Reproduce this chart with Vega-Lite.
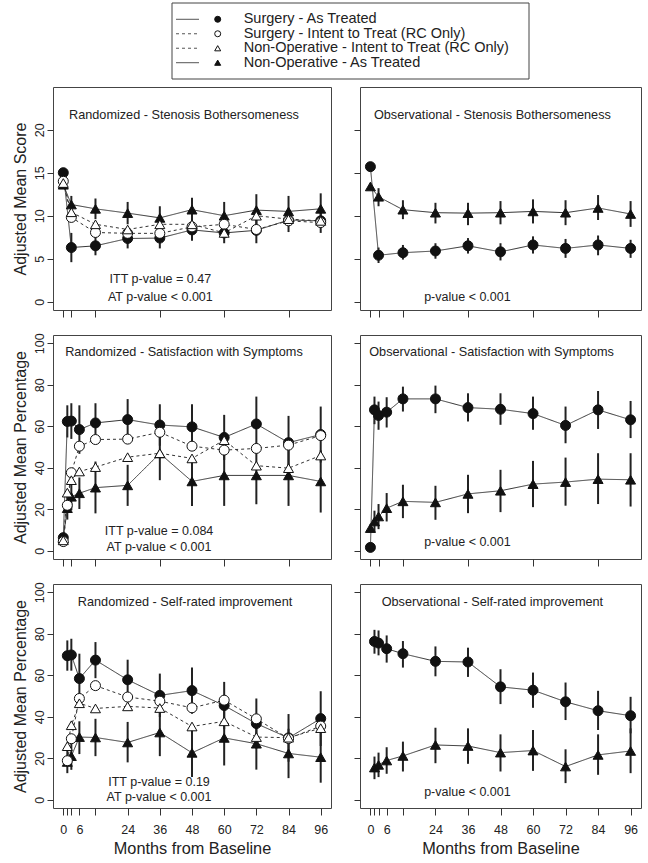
{
"$schema": "https://vega.github.io/schema/vega-lite/v6.json",
"padding": {"left": 11, "top": 2, "right": 4, "bottom": 4},
"config": {
  "font": "Liberation Sans",
  "view": {"stroke": "#444", "strokeWidth": 1},
  "axis": {"grid": false, "domain": false, "tickColor": "#333", "tickWidth": 1, "labelFont": "Liberation Sans", "titleFont": "Liberation Sans", "labelColor": "#222", "titleColor": "#222", "titleFontWeight": "normal", "labelFontSize": 12.5, "titleFontSize": 16, "labelOverlap": false, "labelFlush": false},
  "text": {"font": "Liberation Sans", "color": "#222"}
},
"datasets": {
"leg": [
 {"s": "SAT", "i": 1, "label": "Surgery - As Treated"},
 {"s": "SITT", "i": 2, "label": "Surgery - Intent to Treat (RC Only)"},
 {"s": "NITT", "i": 3, "label": "Non-Operative - Intent to Treat (RC Only)"},
 {"s": "NAT", "i": 4, "label": "Non-Operative - As Treated"}
],
"d": [
 {"o":"SB","c":"R","s":"SAT","m":0,"v":15.0},
 {"o":"SB","c":"R","s":"SAT","m":3,"v":6.3,"lo":4.6,"hi":8.0},
 {"o":"SB","c":"R","s":"SAT","m":12,"v":6.5,"lo":5.4,"hi":7.7},
 {"o":"SB","c":"R","s":"SAT","m":24,"v":7.35,"lo":6.2,"hi":8.4},
 {"o":"SB","c":"R","s":"SAT","m":36,"v":7.4,"lo":6.2,"hi":8.5},
 {"o":"SB","c":"R","s":"SAT","m":48,"v":8.35,"lo":7.1,"hi":9.4},
 {"o":"SB","c":"R","s":"SAT","m":60,"v":8.0,"lo":6.8,"hi":9.2},
 {"o":"SB","c":"R","s":"SAT","m":72,"v":8.3,"lo":6.8,"hi":9.7},
 {"o":"SB","c":"R","s":"SAT","m":84,"v":9.5,"lo":8.1,"hi":10.8},
 {"o":"SB","c":"R","s":"SAT","m":96,"v":9.4,"lo":8.0,"hi":10.7},
 {"o":"SB","c":"R","s":"NAT","m":0,"v":13.6},
 {"o":"SB","c":"R","s":"NAT","m":3,"v":11.3,"lo":10.3,"hi":12.3},
 {"o":"SB","c":"R","s":"NAT","m":12,"v":10.8,"lo":9.6,"hi":12.0},
 {"o":"SB","c":"R","s":"NAT","m":24,"v":10.3,"lo":9.0,"hi":11.6},
 {"o":"SB","c":"R","s":"NAT","m":36,"v":9.75,"lo":8.4,"hi":11.1},
 {"o":"SB","c":"R","s":"NAT","m":48,"v":10.7,"lo":9.3,"hi":12.1},
 {"o":"SB","c":"R","s":"NAT","m":60,"v":10.0,"lo":8.4,"hi":11.6},
 {"o":"SB","c":"R","s":"NAT","m":72,"v":10.65,"lo":8.8,"hi":12.5},
 {"o":"SB","c":"R","s":"NAT","m":84,"v":10.5,"lo":8.8,"hi":12.3},
 {"o":"SB","c":"R","s":"NAT","m":96,"v":10.8,"lo":9.0,"hi":12.6},
 {"o":"SB","c":"R","s":"SITT","m":0,"v":14.0},
 {"o":"SB","c":"R","s":"SITT","m":3,"v":9.8},
 {"o":"SB","c":"R","s":"SITT","m":12,"v":8.05},
 {"o":"SB","c":"R","s":"SITT","m":24,"v":7.95},
 {"o":"SB","c":"R","s":"SITT","m":36,"v":7.95},
 {"o":"SB","c":"R","s":"SITT","m":48,"v":8.7},
 {"o":"SB","c":"R","s":"SITT","m":60,"v":9.0},
 {"o":"SB","c":"R","s":"SITT","m":72,"v":8.4},
 {"o":"SB","c":"R","s":"SITT","m":84,"v":9.4},
 {"o":"SB","c":"R","s":"SITT","m":96,"v":9.2},
 {"o":"SB","c":"R","s":"NITT","m":0,"v":13.8},
 {"o":"SB","c":"R","s":"NITT","m":3,"v":10.4},
 {"o":"SB","c":"R","s":"NITT","m":12,"v":9.0},
 {"o":"SB","c":"R","s":"NITT","m":24,"v":8.4},
 {"o":"SB","c":"R","s":"NITT","m":36,"v":9.0},
 {"o":"SB","c":"R","s":"NITT","m":48,"v":9.0},
 {"o":"SB","c":"R","s":"NITT","m":60,"v":8.0},
 {"o":"SB","c":"R","s":"NITT","m":72,"v":10.0},
 {"o":"SB","c":"R","s":"NITT","m":84,"v":9.6},
 {"o":"SB","c":"R","s":"NITT","m":96,"v":9.4},
 {"o":"SB","c":"O","s":"SAT","m":0,"v":15.7},
 {"o":"SB","c":"O","s":"SAT","m":3,"v":5.4,"lo":4.5,"hi":6.3},
 {"o":"SB","c":"O","s":"SAT","m":12,"v":5.7,"lo":4.9,"hi":6.6},
 {"o":"SB","c":"O","s":"SAT","m":24,"v":5.9,"lo":5.0,"hi":6.8},
 {"o":"SB","c":"O","s":"SAT","m":36,"v":6.5,"lo":5.6,"hi":7.4},
 {"o":"SB","c":"O","s":"SAT","m":48,"v":5.8,"lo":4.8,"hi":6.8},
 {"o":"SB","c":"O","s":"SAT","m":60,"v":6.6,"lo":5.6,"hi":7.6},
 {"o":"SB","c":"O","s":"SAT","m":72,"v":6.2,"lo":5.1,"hi":7.3},
 {"o":"SB","c":"O","s":"SAT","m":84,"v":6.6,"lo":5.4,"hi":7.7},
 {"o":"SB","c":"O","s":"SAT","m":96,"v":6.2,"lo":5.1,"hi":7.2},
 {"o":"SB","c":"O","s":"NAT","m":0,"v":13.4},
 {"o":"SB","c":"O","s":"NAT","m":3,"v":12.2,"lo":11.1,"hi":13.2},
 {"o":"SB","c":"O","s":"NAT","m":12,"v":10.7,"lo":9.6,"hi":11.8},
 {"o":"SB","c":"O","s":"NAT","m":24,"v":10.35,"lo":9.1,"hi":11.5},
 {"o":"SB","c":"O","s":"NAT","m":36,"v":10.3,"lo":8.9,"hi":11.5},
 {"o":"SB","c":"O","s":"NAT","m":48,"v":10.35,"lo":9.0,"hi":11.7},
 {"o":"SB","c":"O","s":"NAT","m":60,"v":10.5,"lo":9.1,"hi":11.9},
 {"o":"SB","c":"O","s":"NAT","m":72,"v":10.35,"lo":8.9,"hi":11.8},
 {"o":"SB","c":"O","s":"NAT","m":84,"v":10.9,"lo":9.5,"hi":12.4},
 {"o":"SB","c":"O","s":"NAT","m":96,"v":10.2,"lo":8.7,"hi":11.7},
 {"o":"SS","c":"R","s":"SAT","m":0,"v":6.3},
 {"o":"SS","c":"R","s":"SAT","m":1.5,"v":62.3,"lo":54.6,"hi":70.1},
 {"o":"SS","c":"R","s":"SAT","m":3,"v":62.5,"lo":53.9,"hi":71.1},
 {"o":"SS","c":"R","s":"SAT","m":6,"v":58.4,"lo":46.7,"hi":70.1},
 {"o":"SS","c":"R","s":"SAT","m":12,"v":61.6,"lo":52.1,"hi":71.1},
 {"o":"SS","c":"R","s":"SAT","m":24,"v":63.2,"lo":53.3,"hi":73.1},
 {"o":"SS","c":"R","s":"SAT","m":36,"v":60.6,"lo":50.6,"hi":70.6},
 {"o":"SS","c":"R","s":"SAT","m":48,"v":59.7,"lo":48.8,"hi":70.6},
 {"o":"SS","c":"R","s":"SAT","m":60,"v":54.6,"lo":43.7,"hi":65.5},
 {"o":"SS","c":"R","s":"SAT","m":72,"v":61.1,"lo":47.9,"hi":74.3},
 {"o":"SS","c":"R","s":"SAT","m":84,"v":52.1,"lo":39.2,"hi":65.0},
 {"o":"SS","c":"R","s":"SAT","m":96,"v":56.0,"lo":42.5,"hi":69.5},
 {"o":"SS","c":"R","s":"NAT","m":0,"v":6.0},
 {"o":"SS","c":"R","s":"NAT","m":1.5,"v":20.5,"lo":15.0,"hi":26.0},
 {"o":"SS","c":"R","s":"NAT","m":3,"v":26.0,"lo":19.5,"hi":32.5},
 {"o":"SS","c":"R","s":"NAT","m":6,"v":27.7,"lo":20.1,"hi":35.3},
 {"o":"SS","c":"R","s":"NAT","m":12,"v":30.4,"lo":18.0,"hi":43.0},
 {"o":"SS","c":"R","s":"NAT","m":24,"v":31.5,"lo":21.6,"hi":41.4},
 {"o":"SS","c":"R","s":"NAT","m":36,"v":46.9,"lo":34.0,"hi":60.0},
 {"o":"SS","c":"R","s":"NAT","m":48,"v":33.4,"lo":21.6,"hi":45.2},
 {"o":"SS","c":"R","s":"NAT","m":60,"v":36.3,"lo":21.6,"hi":51.0},
 {"o":"SS","c":"R","s":"NAT","m":72,"v":36.3,"lo":22.4,"hi":50.2},
 {"o":"SS","c":"R","s":"NAT","m":84,"v":36.3,"lo":21.6,"hi":51.0},
 {"o":"SS","c":"R","s":"NAT","m":96,"v":33.4,"lo":18.4,"hi":48.4},
 {"o":"SS","c":"R","s":"SITT","m":0,"v":4.4},
 {"o":"SS","c":"R","s":"SITT","m":1.5,"v":21.9},
 {"o":"SS","c":"R","s":"SITT","m":3,"v":37.6},
 {"o":"SS","c":"R","s":"SITT","m":6,"v":50.4},
 {"o":"SS","c":"R","s":"SITT","m":12,"v":53.6},
 {"o":"SS","c":"R","s":"SITT","m":24,"v":53.8},
 {"o":"SS","c":"R","s":"SITT","m":36,"v":57.1},
 {"o":"SS","c":"R","s":"SITT","m":48,"v":50.4},
 {"o":"SS","c":"R","s":"SITT","m":60,"v":48.5},
 {"o":"SS","c":"R","s":"SITT","m":72,"v":49.3},
 {"o":"SS","c":"R","s":"SITT","m":84,"v":50.9},
 {"o":"SS","c":"R","s":"SITT","m":96,"v":55.5},
 {"o":"SS","c":"R","s":"NITT","m":0,"v":5.0},
 {"o":"SS","c":"R","s":"NITT","m":1.5,"v":28.0},
 {"o":"SS","c":"R","s":"NITT","m":3,"v":34.0},
 {"o":"SS","c":"R","s":"NITT","m":6,"v":38.2},
 {"o":"SS","c":"R","s":"NITT","m":12,"v":40.3},
 {"o":"SS","c":"R","s":"NITT","m":24,"v":45.1},
 {"o":"SS","c":"R","s":"NITT","m":36,"v":47.0},
 {"o":"SS","c":"R","s":"NITT","m":48,"v":44.5},
 {"o":"SS","c":"R","s":"NITT","m":60,"v":53.3},
 {"o":"SS","c":"R","s":"NITT","m":72,"v":41.0},
 {"o":"SS","c":"R","s":"NITT","m":84,"v":39.8},
 {"o":"SS","c":"R","s":"NITT","m":96,"v":45.9},
 {"o":"SS","c":"O","s":"SAT","m":0,"v":1.6},
 {"o":"SS","c":"O","s":"SAT","m":1.5,"v":67.9,"lo":61.0,"hi":74.3},
 {"o":"SS","c":"O","s":"SAT","m":3,"v":65.2,"lo":58.3,"hi":71.9},
 {"o":"SS","c":"O","s":"SAT","m":6,"v":66.8,"lo":59.4,"hi":74.0},
 {"o":"SS","c":"O","s":"SAT","m":12,"v":73.2,"lo":67.1,"hi":79.1},
 {"o":"SS","c":"O","s":"SAT","m":24,"v":73.2,"lo":66.3,"hi":79.6},
 {"o":"SS","c":"O","s":"SAT","m":36,"v":69.0,"lo":62.3,"hi":75.9},
 {"o":"SS","c":"O","s":"SAT","m":48,"v":68.2,"lo":60.7,"hi":75.9},
 {"o":"SS","c":"O","s":"SAT","m":60,"v":66.1,"lo":58.3,"hi":74.3},
 {"o":"SS","c":"O","s":"SAT","m":72,"v":60.4,"lo":51.8,"hi":69.5},
 {"o":"SS","c":"O","s":"SAT","m":84,"v":67.9,"lo":58.7,"hi":77.0},
 {"o":"SS","c":"O","s":"SAT","m":96,"v":63.1,"lo":54.3,"hi":72.2},
 {"o":"SS","c":"O","s":"NAT","m":0,"v":10.9},
 {"o":"SS","c":"O","s":"NAT","m":1.5,"v":14.1,"lo":8.8,"hi":19.3},
 {"o":"SS","c":"O","s":"NAT","m":3,"v":16.5,"lo":10.4,"hi":22.5},
 {"o":"SS","c":"O","s":"NAT","m":6,"v":20.5,"lo":14.1,"hi":27.8},
 {"o":"SS","c":"O","s":"NAT","m":12,"v":23.8,"lo":15.7,"hi":31.8},
 {"o":"SS","c":"O","s":"NAT","m":24,"v":23.3,"lo":14.9,"hi":31.3},
 {"o":"SS","c":"O","s":"NAT","m":36,"v":27.4,"lo":18.1,"hi":36.6},
 {"o":"SS","c":"O","s":"NAT","m":48,"v":28.9,"lo":18.6,"hi":39.0},
 {"o":"SS","c":"O","s":"NAT","m":60,"v":32.1,"lo":21.0,"hi":43.3},
 {"o":"SS","c":"O","s":"NAT","m":72,"v":33.1,"lo":21.7,"hi":44.9},
 {"o":"SS","c":"O","s":"NAT","m":84,"v":34.5,"lo":22.5,"hi":47.0},
 {"o":"SS","c":"O","s":"NAT","m":96,"v":34.2,"lo":21.3,"hi":47.0},
 {"o":"SR","c":"R","s":"SAT","m":1.5,"v":69.4,"lo":62.2,"hi":76.8},
 {"o":"SR","c":"R","s":"SAT","m":3,"v":69.8,"lo":62.2,"hi":77.6},
 {"o":"SR","c":"R","s":"SAT","m":6,"v":58.4,"lo":46.4,"hi":70.4},
 {"o":"SR","c":"R","s":"SAT","m":12,"v":67.3,"lo":58.6,"hi":76.0},
 {"o":"SR","c":"R","s":"SAT","m":24,"v":57.8,"lo":48.1,"hi":67.5},
 {"o":"SR","c":"R","s":"SAT","m":36,"v":50.3,"lo":39.8,"hi":60.8},
 {"o":"SR","c":"R","s":"SAT","m":48,"v":52.6,"lo":41.5,"hi":63.7},
 {"o":"SR","c":"R","s":"SAT","m":60,"v":45.4,"lo":34.0,"hi":56.8},
 {"o":"SR","c":"R","s":"SAT","m":72,"v":36.7,"lo":24.6,"hi":48.8},
 {"o":"SR","c":"R","s":"SAT","m":84,"v":29.8,"lo":18.3,"hi":41.3},
 {"o":"SR","c":"R","s":"SAT","m":96,"v":39.1,"lo":25.9,"hi":52.3},
 {"o":"SR","c":"R","s":"NAT","m":1.5,"v":18.2,"lo":12.8,"hi":23.6},
 {"o":"SR","c":"R","s":"NAT","m":3,"v":21.0,"lo":14.4,"hi":27.6},
 {"o":"SR","c":"R","s":"NAT","m":6,"v":30.2,"lo":22.0,"hi":37.8},
 {"o":"SR","c":"R","s":"NAT","m":12,"v":30.0,"lo":21.0,"hi":39.0},
 {"o":"SR","c":"R","s":"NAT","m":24,"v":27.6,"lo":18.0,"hi":37.5},
 {"o":"SR","c":"R","s":"NAT","m":36,"v":32.4,"lo":21.0,"hi":44.0},
 {"o":"SR","c":"R","s":"NAT","m":48,"v":22.6,"lo":11.0,"hi":34.0},
 {"o":"SR","c":"R","s":"NAT","m":60,"v":29.8,"lo":16.5,"hi":43.0},
 {"o":"SR","c":"R","s":"NAT","m":72,"v":27.0,"lo":14.5,"hi":39.5},
 {"o":"SR","c":"R","s":"NAT","m":84,"v":22.3,"lo":10.4,"hi":34.2},
 {"o":"SR","c":"R","s":"NAT","m":96,"v":20.5,"lo":8.2,"hi":32.8},
 {"o":"SR","c":"R","s":"SITT","m":1.5,"v":18.8},
 {"o":"SR","c":"R","s":"SITT","m":3,"v":29.4},
 {"o":"SR","c":"R","s":"SITT","m":6,"v":48.8},
 {"o":"SR","c":"R","s":"SITT","m":12,"v":55.0},
 {"o":"SR","c":"R","s":"SITT","m":24,"v":49.5},
 {"o":"SR","c":"R","s":"SITT","m":36,"v":47.5},
 {"o":"SR","c":"R","s":"SITT","m":48,"v":44.3},
 {"o":"SR","c":"R","s":"SITT","m":60,"v":48.0},
 {"o":"SR","c":"R","s":"SITT","m":72,"v":39.0},
 {"o":"SR","c":"R","s":"SITT","m":84,"v":29.5},
 {"o":"SR","c":"R","s":"SITT","m":96,"v":35.5},
 {"o":"SR","c":"R","s":"NITT","m":1.5,"v":25.8},
 {"o":"SR","c":"R","s":"NITT","m":3,"v":35.9},
 {"o":"SR","c":"R","s":"NITT","m":6,"v":46.5},
 {"o":"SR","c":"R","s":"NITT","m":12,"v":44.0},
 {"o":"SR","c":"R","s":"NITT","m":24,"v":45.0},
 {"o":"SR","c":"R","s":"NITT","m":36,"v":44.2},
 {"o":"SR","c":"R","s":"NITT","m":48,"v":35.3},
 {"o":"SR","c":"R","s":"NITT","m":60,"v":37.8},
 {"o":"SR","c":"R","s":"NITT","m":72,"v":30.2},
 {"o":"SR","c":"R","s":"NITT","m":84,"v":29.9},
 {"o":"SR","c":"R","s":"NITT","m":96,"v":34.5},
 {"o":"SR","c":"O","s":"SAT","m":1.5,"v":76.3,"lo":70.4,"hi":81.9},
 {"o":"SR","c":"O","s":"SAT","m":3,"v":75.5,"lo":69.6,"hi":81.6},
 {"o":"SR","c":"O","s":"SAT","m":6,"v":72.8,"lo":66.1,"hi":79.2},
 {"o":"SR","c":"O","s":"SAT","m":12,"v":70.4,"lo":63.7,"hi":76.5},
 {"o":"SR","c":"O","s":"SAT","m":24,"v":66.7,"lo":59.5,"hi":73.9},
 {"o":"SR","c":"O","s":"SAT","m":36,"v":66.4,"lo":59.2,"hi":73.3},
 {"o":"SR","c":"O","s":"SAT","m":48,"v":54.4,"lo":46.1,"hi":62.9},
 {"o":"SR","c":"O","s":"SAT","m":60,"v":52.8,"lo":44.3,"hi":61.3},
 {"o":"SR","c":"O","s":"SAT","m":72,"v":47.2,"lo":38.4,"hi":56.5},
 {"o":"SR","c":"O","s":"SAT","m":84,"v":42.9,"lo":33.6,"hi":52.5},
 {"o":"SR","c":"O","s":"SAT","m":96,"v":40.5,"lo":32.0,"hi":49.6},
 {"o":"SR","c":"O","s":"NAT","m":1.5,"v":15.5,"lo":9.9,"hi":20.8},
 {"o":"SR","c":"O","s":"NAT","m":3,"v":16.8,"lo":10.9,"hi":22.7},
 {"o":"SR","c":"O","s":"NAT","m":6,"v":18.9,"lo":12.5,"hi":25.3},
 {"o":"SR","c":"O","s":"NAT","m":12,"v":21.1,"lo":13.6,"hi":28.0},
 {"o":"SR","c":"O","s":"NAT","m":24,"v":26.4,"lo":17.6,"hi":34.7},
 {"o":"SR","c":"O","s":"NAT","m":36,"v":25.9,"lo":17.3,"hi":34.4},
 {"o":"SR","c":"O","s":"NAT","m":48,"v":22.7,"lo":13.6,"hi":31.5},
 {"o":"SR","c":"O","s":"NAT","m":60,"v":23.7,"lo":13.9,"hi":33.6},
 {"o":"SR","c":"O","s":"NAT","m":72,"v":16.0,"lo":8.0,"hi":24.3},
 {"o":"SR","c":"O","s":"NAT","m":84,"v":21.6,"lo":12.0,"hi":31.5},
 {"o":"SR","c":"O","s":"NAT","m":96,"v":23.5,"lo":12.8,"hi":34.4}
]
},
"spacing": 6,
"vconcat": [
 {
  "width": 586, "height": 76,
  "view": {"stroke": null},
  "layer": [
   {"data": {"values": [{}]}, "mark": {"type": "rect", "filled": false, "color": "#444", "strokeWidth": 1},
    "encoding": {"x": {"datum": 119, "type": "quantitative", "scale": {"domain": [0, 586], "nice": false, "zero": false}, "axis": null}, "x2": {"datum": 476},
     "y": {"datum": -0.126, "type": "quantitative", "scale": {"domain": [-0.126, 5.126], "reverse": true, "nice": false, "zero": false}, "axis": null}, "y2": {"datum": 5.126}}},
   {"data": {"name": "leg"}, "mark": {"type": "rule", "strokeWidth": 1, "color": "#555"},
    "encoding": {"x": {"datum": 123, "type": "quantitative"}, "x2": {"datum": 146}, "y": {"field": "i", "type": "quantitative"},
     "strokeDash": {"field": "s", "type": "nominal", "scale": {"domain": ["SAT","SITT","NITT","NAT"], "range": [[1,0],[3,3],[3,3],[1,0]]}, "legend": null}}},
   {"data": {"name": "leg"}, "mark": {"type": "point", "filled": true, "stroke": "#111", "strokeWidth": 1, "opacity": 1, "size": 36},
    "encoding": {"x": {"datum": 164.7, "type": "quantitative"}, "y": {"field": "i", "type": "quantitative"},
     "shape": {"field": "s", "type": "nominal", "scale": {"domain": ["SAT","SITT","NITT","NAT"], "range": ["circle","circle","triangle-up","triangle-up"]}, "legend": null},
     "fill": {"field": "s", "type": "nominal", "scale": {"domain": ["SAT","SITT","NITT","NAT"], "range": ["#111111","#ffffff","#ffffff","#111111"]}, "legend": null}}},
   {"data": {"name": "leg"}, "mark": {"type": "text", "align": "left", "baseline": "middle", "fontSize": 14.5, "color": "#222"},
    "encoding": {"x": {"datum": 190.7, "type": "quantitative"}, "y": {"field": "i", "type": "quantitative"}, "text": {"field": "label"}}}
  ]
 },
 {
  "spacing": 14,
  "vconcat": [
   {"spacing": 21, "hconcat": [
    {"width": 278, "height": 223,
     "layer": [
      {"data": {"name": "d"}, "transform": [{"filter": "datum.o=='SB' && datum.c=='R' && isValid(datum.lo)"}],
       "mark": {"type": "rule", "strokeWidth": 2, "color": "#222"},
       "encoding": {"x": {"field": "m", "type": "quantitative", "scale": {"domain": [-3.84, 99.84], "nice": false, "zero": false}, "axis": {"values": [0,1.5,3,6,12,24,36,48,60,72,84,96], "labels": false, "title": null, "tickSize": 7}},
        "y": {"field": "lo", "type": "quantitative", "scale": {"domain": [-0.96, 24.96], "nice": false, "zero": false}, "axis": {"values": [0,5,10,15,20], "title": "Adjusted Mean Score", "labelAngle": -90, "tickSize": 6, "labelPadding": 1, "titlePadding": 5}},
        "y2": {"field": "hi"}}},
      {"data": {"name": "d"}, "transform": [{"filter": "datum.o=='SB' && datum.c=='R'"}],
       "mark": {"type": "line", "strokeWidth": 1, "color": "#333"},
       "encoding": {"x": {"field": "m", "type": "quantitative"}, "y": {"field": "v", "type": "quantitative"},
        "strokeDash": {"field": "s", "type": "nominal", "scale": {"domain": ["SAT","SITT","NITT","NAT"], "range": [[1,0],[4,3],[4,3],[1,0]]}, "legend": null}}},
      {"data": {"name": "d"}, "transform": [{"filter": "datum.o=='SB' && datum.c=='R'"}],
       "mark": {"type": "point", "filled": true, "stroke": "#111", "strokeWidth": 1, "opacity": 1, "size": 100},
       "encoding": {"x": {"field": "m", "type": "quantitative"}, "y": {"field": "v", "type": "quantitative"},
        "shape": {"field": "s", "type": "nominal", "scale": {"domain": ["SAT","SITT","NITT","NAT"], "range": ["circle","circle","triangle-up","triangle-up"]}, "legend": null},
        "fill": {"field": "s", "type": "nominal", "scale": {"domain": ["SAT","SITT","NITT","NAT"], "range": ["#111111","#ffffff","#ffffff","#111111"]}, "legend": null}}},
      {"data": {"values": [{}]}, "mark": {"type": "text", "text": "Randomized - Stenosis Bothersomeness", "fontSize": 12.7, "baseline": "middle"}, "encoding": {"x": {"datum": 45}, "y": {"datum": 21.7}}},
      {"data": {"values": [{}]}, "mark": {"type": "text", "text": "ITT p-value = 0.47", "fontSize": 12.5, "baseline": "middle"}, "encoding": {"x": {"datum": 36.2}, "y": {"datum": 2.7}}},
      {"data": {"values": [{}]}, "mark": {"type": "text", "text": "AT p-value < 0.001", "fontSize": 12.5, "baseline": "middle"}, "encoding": {"x": {"datum": 36.2}, "y": {"datum": 0.6}}}
     ]},
    {"width": 281, "height": 223,
     "layer": [
      {"data": {"name": "d"}, "transform": [{"filter": "datum.o=='SB' && datum.c=='O' && isValid(datum.lo)"}],
       "mark": {"type": "rule", "strokeWidth": 2, "color": "#222"},
       "encoding": {"x": {"field": "m", "type": "quantitative", "scale": {"domain": [-3.84, 99.84], "nice": false, "zero": false}, "axis": {"values": [0,1.5,3,6,12,24,36,48,60,72,84,96], "labels": false, "title": null, "tickSize": 7}},
        "y": {"field": "lo", "type": "quantitative", "scale": {"domain": [-0.96, 24.96], "nice": false, "zero": false}, "axis": {"values": [0,5,10,15,20], "title": null, "labels": false, "tickSize": 6}},
        "y2": {"field": "hi"}}},
      {"data": {"name": "d"}, "transform": [{"filter": "datum.o=='SB' && datum.c=='O'"}],
       "mark": {"type": "line", "strokeWidth": 1, "color": "#333"},
       "encoding": {"x": {"field": "m", "type": "quantitative"}, "y": {"field": "v", "type": "quantitative"},
        "strokeDash": {"field": "s", "type": "nominal", "scale": {"domain": ["SAT","SITT","NITT","NAT"], "range": [[1,0],[4,3],[4,3],[1,0]]}, "legend": null}}},
      {"data": {"name": "d"}, "transform": [{"filter": "datum.o=='SB' && datum.c=='O'"}],
       "mark": {"type": "point", "filled": true, "stroke": "#111", "strokeWidth": 1, "opacity": 1, "size": 100},
       "encoding": {"x": {"field": "m", "type": "quantitative"}, "y": {"field": "v", "type": "quantitative"},
        "shape": {"field": "s", "type": "nominal", "scale": {"domain": ["SAT","SITT","NITT","NAT"], "range": ["circle","circle","triangle-up","triangle-up"]}, "legend": null},
        "fill": {"field": "s", "type": "nominal", "scale": {"domain": ["SAT","SITT","NITT","NAT"], "range": ["#111111","#ffffff","#ffffff","#111111"]}, "legend": null}}},
      {"data": {"values": [{}]}, "mark": {"type": "text", "text": "Observational - Stenosis Bothersomeness", "fontSize": 12.7, "baseline": "middle"}, "encoding": {"x": {"datum": 45}, "y": {"datum": 21.7}}},
      {"data": {"values": [{}]}, "mark": {"type": "text", "text": "p-value < 0.001", "fontSize": 12.5, "baseline": "middle"}, "encoding": {"x": {"datum": 35.8}, "y": {"datum": 0.6}}}
     ]}
   ]},
   {"spacing": 21, "hconcat": [
    {"width": 278, "height": 224,
     "layer": [
      {"data": {"name": "d"}, "transform": [{"filter": "datum.o=='SS' && datum.c=='R' && isValid(datum.lo)"}],
       "mark": {"type": "rule", "strokeWidth": 2, "color": "#222"},
       "encoding": {"x": {"field": "m", "type": "quantitative", "scale": {"domain": [-3.84, 99.84], "nice": false, "zero": false}, "axis": {"values": [0,1.5,3,6,12,24,36,48,60,72,84,96], "labels": false, "title": null, "tickSize": 7}},
        "y": {"field": "lo", "type": "quantitative", "scale": {"domain": [-4, 104], "nice": false, "zero": false}, "axis": {"values": [0,20,40,60,80,100], "title": "Adjusted Mean Percentage", "labelAngle": -90, "tickSize": 6, "labelPadding": 1, "titlePadding": 5}},
        "y2": {"field": "hi"}}},
      {"data": {"name": "d"}, "transform": [{"filter": "datum.o=='SS' && datum.c=='R'"}],
       "mark": {"type": "line", "strokeWidth": 1, "color": "#333"},
       "encoding": {"x": {"field": "m", "type": "quantitative"}, "y": {"field": "v", "type": "quantitative"},
        "strokeDash": {"field": "s", "type": "nominal", "scale": {"domain": ["SAT","SITT","NITT","NAT"], "range": [[1,0],[4,3],[4,3],[1,0]]}, "legend": null}}},
      {"data": {"name": "d"}, "transform": [{"filter": "datum.o=='SS' && datum.c=='R'"}],
       "mark": {"type": "point", "filled": true, "stroke": "#111", "strokeWidth": 1, "opacity": 1, "size": 100},
       "encoding": {"x": {"field": "m", "type": "quantitative"}, "y": {"field": "v", "type": "quantitative"},
        "shape": {"field": "s", "type": "nominal", "scale": {"domain": ["SAT","SITT","NITT","NAT"], "range": ["circle","circle","triangle-up","triangle-up"]}, "legend": null},
        "fill": {"field": "s", "type": "nominal", "scale": {"domain": ["SAT","SITT","NITT","NAT"], "range": ["#111111","#ffffff","#ffffff","#111111"]}, "legend": null}}},
      {"data": {"values": [{}]}, "mark": {"type": "text", "text": "Randomized - Satisfaction with Symptoms", "fontSize": 12.7, "baseline": "middle"}, "encoding": {"x": {"datum": 45}, "y": {"datum": 95.8}}},
      {"data": {"values": [{}]}, "mark": {"type": "text", "text": "ITT p-value = 0.084", "fontSize": 12.5, "baseline": "middle"}, "encoding": {"x": {"datum": 35.7}, "y": {"datum": 9.3}}},
      {"data": {"values": [{}]}, "mark": {"type": "text", "text": "AT p-value < 0.001", "fontSize": 12.5, "baseline": "middle"}, "encoding": {"x": {"datum": 35.7}, "y": {"datum": 1.6}}}
     ]},
    {"width": 281, "height": 224,
     "layer": [
      {"data": {"name": "d"}, "transform": [{"filter": "datum.o=='SS' && datum.c=='O' && isValid(datum.lo)"}],
       "mark": {"type": "rule", "strokeWidth": 2, "color": "#222"},
       "encoding": {"x": {"field": "m", "type": "quantitative", "scale": {"domain": [-3.84, 99.84], "nice": false, "zero": false}, "axis": {"values": [0,1.5,3,6,12,24,36,48,60,72,84,96], "labels": false, "title": null, "tickSize": 7}},
        "y": {"field": "lo", "type": "quantitative", "scale": {"domain": [-4, 104], "nice": false, "zero": false}, "axis": {"values": [0,20,40,60,80,100], "title": null, "labels": false, "tickSize": 6}},
        "y2": {"field": "hi"}}},
      {"data": {"name": "d"}, "transform": [{"filter": "datum.o=='SS' && datum.c=='O'"}],
       "mark": {"type": "line", "strokeWidth": 1, "color": "#333"},
       "encoding": {"x": {"field": "m", "type": "quantitative"}, "y": {"field": "v", "type": "quantitative"},
        "strokeDash": {"field": "s", "type": "nominal", "scale": {"domain": ["SAT","SITT","NITT","NAT"], "range": [[1,0],[4,3],[4,3],[1,0]]}, "legend": null}}},
      {"data": {"name": "d"}, "transform": [{"filter": "datum.o=='SS' && datum.c=='O'"}],
       "mark": {"type": "point", "filled": true, "stroke": "#111", "strokeWidth": 1, "opacity": 1, "size": 100},
       "encoding": {"x": {"field": "m", "type": "quantitative"}, "y": {"field": "v", "type": "quantitative"},
        "shape": {"field": "s", "type": "nominal", "scale": {"domain": ["SAT","SITT","NITT","NAT"], "range": ["circle","circle","triangle-up","triangle-up"]}, "legend": null},
        "fill": {"field": "s", "type": "nominal", "scale": {"domain": ["SAT","SITT","NITT","NAT"], "range": ["#111111","#ffffff","#ffffff","#111111"]}, "legend": null}}},
      {"data": {"values": [{}]}, "mark": {"type": "text", "text": "Observational - Satisfaction with Symptoms", "fontSize": 12.7, "baseline": "middle"}, "encoding": {"x": {"datum": 44.7}, "y": {"datum": 95.8}}},
      {"data": {"values": [{}]}, "mark": {"type": "text", "text": "p-value < 0.001", "fontSize": 12.5, "baseline": "middle"}, "encoding": {"x": {"datum": 35.8}, "y": {"datum": 4.3}}}
     ]}
   ]},
   {"spacing": 21, "hconcat": [
    {"width": 278, "height": 224,
     "resolve": {"axis": {"x": "independent"}},
     "layer": [
      {"data": {"name": "d"}, "transform": [{"filter": "datum.o=='SR' && datum.c=='R' && isValid(datum.lo)"}],
       "mark": {"type": "rule", "strokeWidth": 2, "color": "#222"},
       "encoding": {"x": {"field": "m", "type": "quantitative", "scale": {"domain": [-3.84, 99.84], "nice": false, "zero": false}, "axis": {"orient": "bottom", "values": [0,6,24,36,48,60,72,84,96], "labelOverlap": false, "title": "Months from Baseline", "titleFontSize": 16.3, "tickSize": 7, "labelPadding": 8, "titlePadding": 5}},
        "y": {"field": "lo", "type": "quantitative", "scale": {"domain": [-4, 104], "nice": false, "zero": false}, "axis": {"values": [0,20,40,60,80,100], "title": "Adjusted Mean Percentage", "labelAngle": -90, "tickSize": 6, "labelPadding": 1, "titlePadding": 5}},
        "y2": {"field": "hi"}}},
      {"data": {"name": "d"}, "transform": [{"filter": "datum.o=='SR' && datum.c=='R'"}],
       "mark": {"type": "line", "strokeWidth": 1, "color": "#333"},
       "encoding": {"x": {"field": "m", "type": "quantitative", "axis": {"orient": "bottom", "values": [1.5,3,12], "labels": false, "title": null, "tickSize": 7}}, "y": {"field": "v", "type": "quantitative"},
        "strokeDash": {"field": "s", "type": "nominal", "scale": {"domain": ["SAT","SITT","NITT","NAT"], "range": [[1,0],[4,3],[4,3],[1,0]]}, "legend": null}}},
      {"data": {"name": "d"}, "transform": [{"filter": "datum.o=='SR' && datum.c=='R'"}],
       "mark": {"type": "point", "filled": true, "stroke": "#111", "strokeWidth": 1, "opacity": 1, "size": 100},
       "encoding": {"x": {"field": "m", "type": "quantitative", "axis": null}, "y": {"field": "v", "type": "quantitative"},
        "shape": {"field": "s", "type": "nominal", "scale": {"domain": ["SAT","SITT","NITT","NAT"], "range": ["circle","circle","triangle-up","triangle-up"]}, "legend": null},
        "fill": {"field": "s", "type": "nominal", "scale": {"domain": ["SAT","SITT","NITT","NAT"], "range": ["#111111","#ffffff","#ffffff","#111111"]}, "legend": null}}},
      {"data": {"values": [{}]}, "mark": {"type": "text", "text": "Randomized - Self-rated improvement", "fontSize": 12.7, "baseline": "middle"}, "encoding": {"x": {"datum": 45.4, "axis": null}, "y": {"datum": 95.2}}},
      {"data": {"values": [{}]}, "mark": {"type": "text", "text": "ITT p-value = 0.19", "fontSize": 12.5, "baseline": "middle"}, "encoding": {"x": {"datum": 35.7, "axis": null}, "y": {"datum": 8.5}}},
      {"data": {"values": [{}]}, "mark": {"type": "text", "text": "AT p-value < 0.001", "fontSize": 12.5, "baseline": "middle"}, "encoding": {"x": {"datum": 35.7, "axis": null}, "y": {"datum": 1.3}}}
     ]},
    {"width": 281, "height": 224,
     "resolve": {"axis": {"x": "independent"}},
     "layer": [
      {"data": {"name": "d"}, "transform": [{"filter": "datum.o=='SR' && datum.c=='O' && isValid(datum.lo)"}],
       "mark": {"type": "rule", "strokeWidth": 2, "color": "#222"},
       "encoding": {"x": {"field": "m", "type": "quantitative", "scale": {"domain": [-3.84, 99.84], "nice": false, "zero": false}, "axis": {"orient": "bottom", "values": [0,6,24,36,48,60,72,84,96], "labelOverlap": false, "title": "Months from Baseline", "titleFontSize": 16.3, "tickSize": 7, "labelPadding": 8, "titlePadding": 5}},
        "y": {"field": "lo", "type": "quantitative", "scale": {"domain": [-4, 104], "nice": false, "zero": false}, "axis": {"values": [0,20,40,60,80,100], "title": null, "labels": false, "tickSize": 6}},
        "y2": {"field": "hi"}}},
      {"data": {"name": "d"}, "transform": [{"filter": "datum.o=='SR' && datum.c=='O'"}],
       "mark": {"type": "line", "strokeWidth": 1, "color": "#333"},
       "encoding": {"x": {"field": "m", "type": "quantitative", "axis": {"orient": "bottom", "values": [1.5,3,12], "labels": false, "title": null, "tickSize": 7}}, "y": {"field": "v", "type": "quantitative"},
        "strokeDash": {"field": "s", "type": "nominal", "scale": {"domain": ["SAT","SITT","NITT","NAT"], "range": [[1,0],[4,3],[4,3],[1,0]]}, "legend": null}}},
      {"data": {"name": "d"}, "transform": [{"filter": "datum.o=='SR' && datum.c=='O'"}],
       "mark": {"type": "point", "filled": true, "stroke": "#111", "strokeWidth": 1, "opacity": 1, "size": 100},
       "encoding": {"x": {"field": "m", "type": "quantitative", "axis": null}, "y": {"field": "v", "type": "quantitative"},
        "shape": {"field": "s", "type": "nominal", "scale": {"domain": ["SAT","SITT","NITT","NAT"], "range": ["circle","circle","triangle-up","triangle-up"]}, "legend": null},
        "fill": {"field": "s", "type": "nominal", "scale": {"domain": ["SAT","SITT","NITT","NAT"], "range": ["#111111","#ffffff","#ffffff","#111111"]}, "legend": null}}},
      {"data": {"values": [{}]}, "mark": {"type": "text", "text": "Observational - Self-rated improvement", "fontSize": 12.7, "baseline": "middle"}, "encoding": {"x": {"datum": 45, "axis": null}, "y": {"datum": 95.2}}},
      {"data": {"values": [{}]}, "mark": {"type": "text", "text": "p-value < 0.001", "fontSize": 12.5, "baseline": "middle"}, "encoding": {"x": {"datum": 35.8, "axis": null}, "y": {"datum": 3.7}}}
     ]}
   ]}
  ]
 }
]
}
